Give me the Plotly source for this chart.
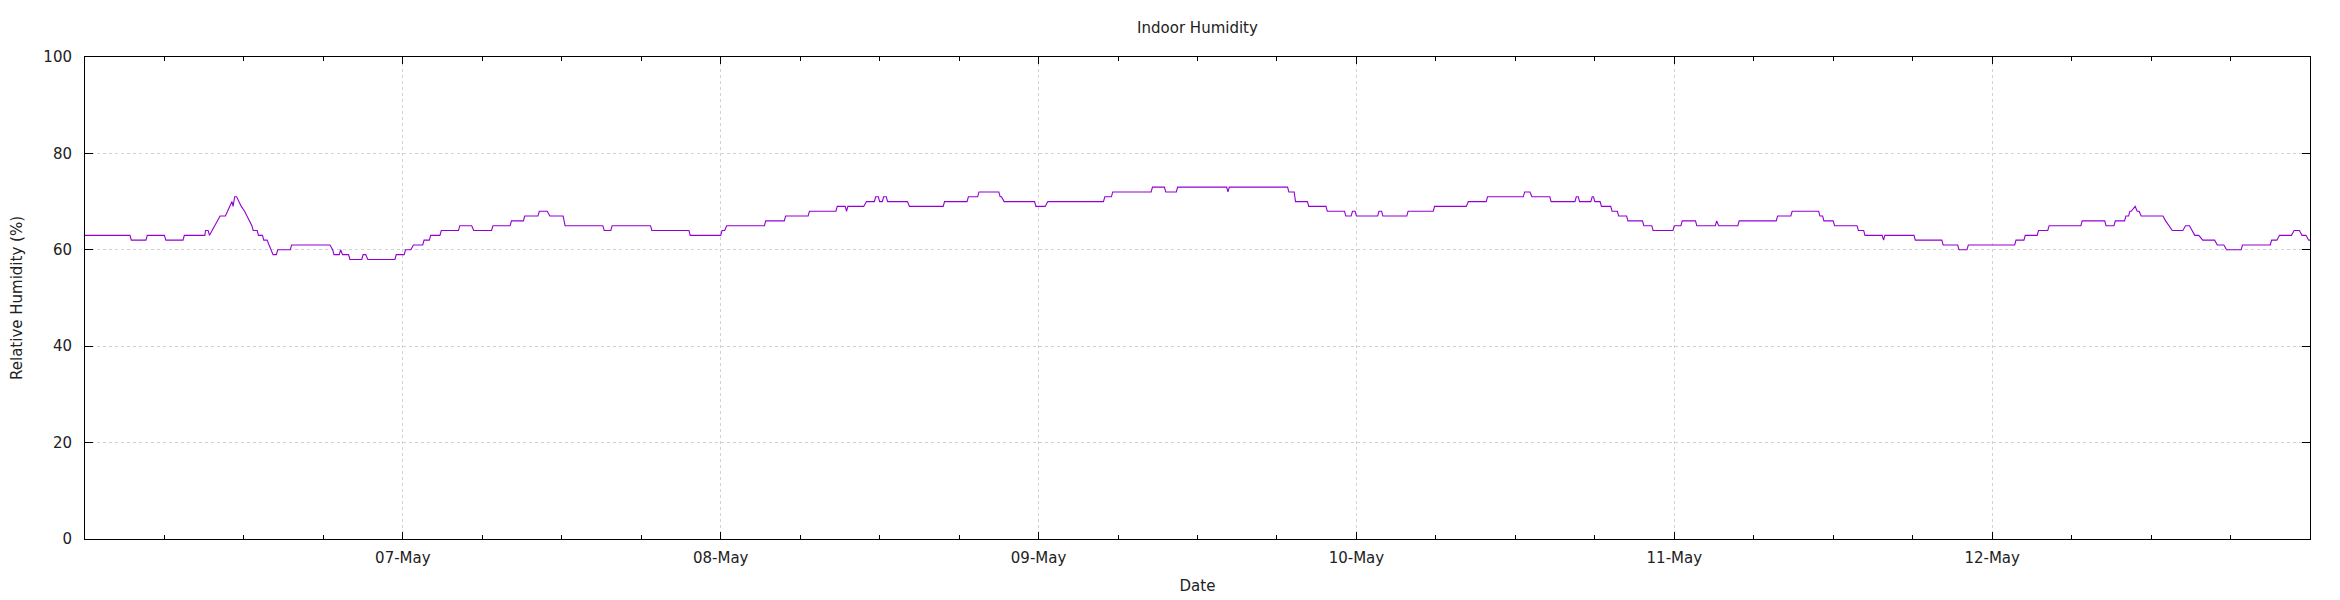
import pandas as pd
import plotly.graph_objects as go

# ---- data (hours since 06-May 00:00, level in % RH) ----
seg_start_h = [0.0, 3.5, 4.7, 6.1, 7.5, 9.1, 9.4, 9.6, 9.8, 10.0, 10.2, 10.75, 10.95, 11.1, 11.18, 11.3, 11.6, 11.8,
               12.05, 12.25, 12.45, 12.6, 12.7, 13.1, 13.5, 13.9, 14.05, 14.2, 14.55, 15.6, 18.7, 18.8, 19.3, 19.45,
               20.0, 21.0, 21.35, 23.5, 24.2, 24.8, 25.6, 26.1, 26.9, 28.3, 29.35, 30.8, 32.2, 33.2, 34.3, 35.1,
               36.25, 39.2, 39.8, 42.8, 45.7, 48.1, 48.45, 51.4, 52.9, 54.7, 56.8, 57.5, 57.6, 59.0, 59.7, 60.0,
               60.3, 60.6, 62.25, 64.9, 66.7, 67.5, 69.1, 69.4, 71.8, 72.7, 77.0, 77.6, 80.6, 81.6, 82.5, 86.3,
               86.4, 90.9, 91.4, 92.4, 93.8, 95.2, 95.7, 96.0, 97.7, 98.0, 99.9, 101.9, 104.45, 105.9, 108.7,
               109.25, 110.7, 112.6, 112.85, 113.8, 114.0, 114.5, 115.3, 115.8, 116.5, 117.7, 118.4, 120.0, 120.6,
               121.7, 123.2, 123.35, 124.9, 127.8, 128.9, 131.0, 131.3, 132.1, 133.9, 134.4, 135.8, 135.9, 138.2,
               140.3, 141.5, 142.2, 145.8, 146.5, 147.5, 148.3, 150.8, 152.6, 153.3, 154.1, 154.4, 154.8, 154.95,
               155.25, 157.1, 157.35, 157.6, 158.6, 159.1, 159.3, 159.9, 161.0, 161.7, 162.9, 165.1, 165.7, 166.8,
               167.4, 167.9]
seg_end_h = [3.4, 4.6, 6.0, 7.4, 9.05, 9.3, 9.4, 9.6, 9.8, 10.0, 10.6, 10.75, 10.95, 11.1, 11.18, 11.45, 11.6, 11.8,
             12.05, 12.25, 12.45, 12.6, 13.0, 13.4, 13.75, 13.9, 14.05, 14.45, 15.5, 18.5, 18.7, 19.2, 19.3, 19.9,
             20.9, 21.2, 23.4, 24.1, 24.6, 25.5, 26.0, 26.8, 28.2, 29.2, 30.7, 32.1, 33.1, 34.2, 34.9, 36.1,
             39.1, 39.7, 42.7, 45.6, 48.0, 48.3, 51.3, 52.8, 54.6, 56.7, 57.4, 57.5, 58.8, 59.6, 59.9, 60.2,
             60.5, 62.1, 64.8, 66.6, 67.4, 69.0, 69.2, 71.7, 72.5, 76.9, 77.5, 80.5, 81.5, 82.4, 86.2, 86.3,
             90.8, 91.3, 92.3, 93.7, 95.1, 95.6, 95.9, 97.6, 97.9, 99.8, 101.8, 104.3, 105.8, 108.6, 109.1,
             110.6, 112.5, 112.75, 113.7, 113.9, 114.4, 115.2, 115.7, 116.4, 117.6, 118.3, 119.9, 120.5, 121.6,
             123.1, 123.2, 124.8, 127.7, 128.8, 130.9, 131.2, 132.0, 133.8, 134.3, 135.7, 135.8, 138.1, 140.2,
             141.4, 142.1, 145.7, 146.4, 147.4, 148.2, 150.7, 152.5, 153.2, 154.0, 154.3, 154.5, 154.8, 155.1,
             156.9, 157.1, 157.35, 158.4, 158.9, 159.1, 159.6, 160.8, 161.5, 162.8, 165.0, 165.5, 166.6, 167.2,
             167.7, 168.0]
seg_rh = [63, 62, 63, 62, 63, 64, 63, 64, 65, 66, 67, 68, 69, 70, 69, 71, 70, 69,
          68, 67, 66, 65, 64, 63, 62, 61, 60, 59, 60, 61, 60, 59, 60, 59,
          58, 59, 58, 59, 60, 61, 62, 63, 64, 65, 64, 65, 66, 67, 68, 67,
          65, 64, 65, 64, 63, 64, 65, 66, 67, 68, 69, 68, 69, 70, 71, 70,
          71, 70, 69, 70, 71, 72, 71, 70, 69, 70, 71, 72, 73, 72, 73, 72,
          73, 72, 70, 69, 68, 67, 68, 67, 68, 67, 68, 69, 70, 71, 72,
          71, 70, 71, 70, 71, 70, 69, 68, 67, 66, 65, 64, 65, 66,
          65, 66, 65, 66, 67, 68, 67, 66, 65, 64, 63, 62, 63, 62,
          61, 60, 61, 62, 63, 64, 65, 66, 65, 66, 67, 68, 69, 68,
          67, 66, 65, 64, 65, 64, 63, 62, 61, 60, 61, 62, 63, 64,
          63, 62]

start_time = "2024-05-06 00:00"
end_time = "2024-05-13 00:00"
tick_dates = ["2024-05-07", "2024-05-08", "2024-05-09", "2024-05-10", "2024-05-11", "2024-05-12"]
tick_labels = ["07-May", "08-May", "09-May", "10-May", "11-May", "12-May"]
y_ticks = [0, 20, 40, 60, 80, 100]

# expand level segments into line points
hours, values = [], []
for s, e, v in zip(seg_start_h, seg_end_h, seg_rh):
    hours.append(s)
    values.append(v)
    if e > s:
        hours.append(e)
        values.append(v)
base = pd.Timestamp(start_time)
times = [base + pd.Timedelta(hours=h) for h in hours]

FONT = "DejaVu Sans"
TXT = "#222222"

fig = go.Figure()
fig.add_trace(go.Scatter(x=times, y=values, mode="lines",
                         line=dict(color="#9400D3", width=1.1), showlegend=False))

axis_common = dict(showline=True, linecolor="black", linewidth=1, mirror="allticks",
                   ticks="inside", tickcolor="black", zeroline=False, automargin=False,
                   tickfont=dict(family=FONT, size=15, color=TXT),
                   showgrid=True, gridcolor="#d2d2d2", griddash="dot", gridwidth=1)

fig.update_xaxes(type="date", range=[start_time, end_time],
                 tickmode="array", tickvals=tick_dates, ticktext=tick_labels,
                 ticklen=7, tickwidth=1, ticklabelstandoff=5,
                 minor=dict(ticks="inside", ticklen=4, tickcolor="black", dtick=6 * 3600 * 1000,
                            tick0=start_time, showgrid=False),
                 title=dict(text="Date", standoff=14, font=dict(family=FONT, size=15, color=TXT)),
                 **axis_common)
fig.update_yaxes(range=[0, 100], tickmode="array", tickvals=y_ticks,
                 ticklen=8, tickwidth=1, ticklabelstandoff=9,
                 title=dict(text="Relative Humidity (%)", standoff=20,
                            font=dict(family=FONT, size=15, color=TXT)),
                 **axis_common)

# the page places the figure 8px in from the top-left corner; margins compensate
fig.update_layout(
    width=2340, height=600,
    margin=dict(l=77, r=38, t=49, b=69),
    paper_bgcolor="white", plot_bgcolor="white",
    font=dict(family=FONT, size=15, color=TXT),
    title=dict(text="Indoor Humidity", x=0.5, xref="paper", xanchor="center",
               y=1 - 20 / 600, yref="container", yanchor="middle", automargin=False,
               font=dict(family=FONT, size=15, color=TXT)),
)

fig.write_html("out.html")
